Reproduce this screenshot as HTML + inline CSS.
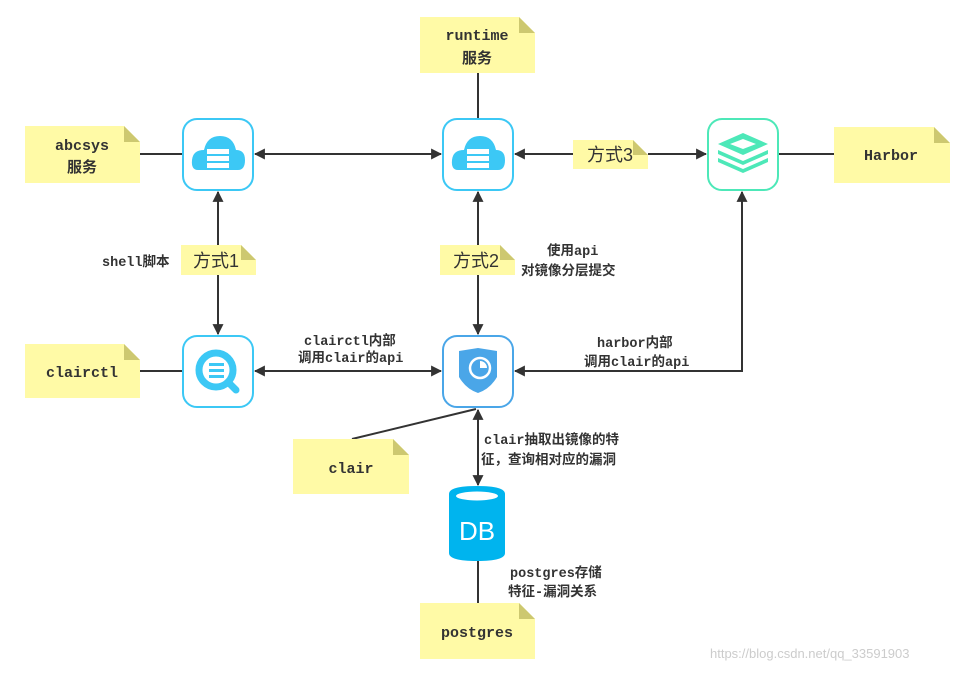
<!DOCTYPE html>
<html><head><meta charset="utf-8"><style>
html,body{margin:0;padding:0;background:#fff}
svg text{font-family:"Liberation Mono","Noto Sans CJK SC",monospace;font-weight:bold;fill:#333}
</style></head><body>
<svg width="962" height="671" viewBox="0 0 962 671" xmlns="http://www.w3.org/2000/svg">
<defs>
<marker id="a" viewBox="0 0 10 10" refX="9" refY="5" markerWidth="11" markerHeight="11" markerUnits="userSpaceOnUse" orient="auto-start-reverse"><path d="M0,0 L10,5 L0,10 z" fill="#333"/></marker>
</defs>
<g stroke="#333" stroke-width="2" fill="none">
<line x1="140" y1="154" x2="183" y2="154"/>
<line x1="255" y1="154" x2="441" y2="154" marker-start="url(#a)" marker-end="url(#a)"/>
<line x1="515" y1="154" x2="573" y2="154" marker-start="url(#a)"/>
<line x1="648" y1="154" x2="706" y2="154" marker-end="url(#a)"/>
<line x1="778" y1="154" x2="834" y2="154"/>
<line x1="478" y1="73" x2="478" y2="118"/>
<line x1="218" y1="192" x2="218" y2="245" marker-start="url(#a)"/>
<line x1="218" y1="275" x2="218" y2="334" marker-end="url(#a)"/>
<line x1="478" y1="192" x2="478" y2="245" marker-start="url(#a)"/>
<line x1="478" y1="275" x2="478" y2="334" marker-end="url(#a)"/>
<line x1="140" y1="371" x2="183" y2="371"/>
<line x1="255" y1="371" x2="441" y2="371" marker-start="url(#a)" marker-end="url(#a)"/>
<polyline points="515,371 742,371 742,192" marker-start="url(#a)" marker-end="url(#a)"/>
<line x1="478" y1="410" x2="478" y2="485" marker-start="url(#a)" marker-end="url(#a)"/>
<line x1="352" y1="439" x2="476" y2="409"/>
<line x1="478" y1="560" x2="478" y2="603"/>
</g>
<g>
<path d="M25,126 H124 L140,142 V183 H25 z" fill="#fffaa6"/><path d="M124,126 V142 H140 z" fill="#cdc870"/>
<path d="M420,17 H519 L535,33 V73 H420 z" fill="#fffaa6"/><path d="M519,17 V33 H535 z" fill="#cdc870"/>
<path d="M834,127 H934 L950,143 V183 H834 z" fill="#fffaa6"/><path d="M934,127 V143 H950 z" fill="#cdc870"/>
<path d="M25,344 H124 L140,360 V398 H25 z" fill="#fffaa6"/><path d="M124,344 V360 H140 z" fill="#cdc870"/>
<path d="M293,439 H393 L409,455 V494 H293 z" fill="#fffaa6"/><path d="M393,439 V455 H409 z" fill="#cdc870"/>
<path d="M420,603 H519 L535,619 V659 H420 z" fill="#fffaa6"/><path d="M519,603 V619 H535 z" fill="#cdc870"/>
<path d="M181,245 H241 L256,260 V275 H181 z" fill="#fffaa6"/><path d="M241,245 V260 H256 z" fill="#cdc870"/>
<path d="M440,245 H500 L515,260 V275 H440 z" fill="#fffaa6"/><path d="M500,245 V260 H515 z" fill="#cdc870"/>
<path d="M573,140 H633 L648,155 V169 H573 z" fill="#fffaa6"/><path d="M633,140 V155 H648 z" fill="#cdc870"/>
</g>
<g fill="#fff" stroke-width="2">
<rect x="183" y="119" width="70" height="71" rx="14" stroke="#3cc8f5"/>
<rect x="443" y="119" width="70" height="71" rx="14" stroke="#3cc8f5"/>
<rect x="708" y="119" width="70" height="71" rx="14" stroke="#4de8b8"/>
<rect x="183" y="336" width="70" height="71" rx="14" stroke="#3cc8f5"/>
<rect x="443" y="336" width="70" height="71" rx="14" stroke="#4aa6e8"/>
</g>
<g id="cl">
<path d="M198,170 Q191,170 192,160 Q193,150 204,150 Q207,136 220,136 Q233,136 236,150 Q245,150 245,160 Q245,170 238,170 z" fill="#3cc8f5"/>
<rect x="207" y="149" width="22" height="5" fill="#fff"/><rect x="207" y="156" width="22" height="5" fill="#fff"/><rect x="207" y="163" width="22" height="5" fill="#fff"/>
</g>
<use href="#cl" x="260"/>
<g fill="#4de8b8">
<path d="M743,133 L768,144 L743,155 L718,144 z"/>
<path d="M718,150 L743,161 L768,150 L768,154 L743,165 L718,154 z"/>
<path d="M718,158 L743,169 L768,158 L768,162 L743,173 L718,162 z"/>
</g>
<path d="M743,139 L756,144 L743,149 L730,144 z" fill="#fff"/>
<circle cx="216" cy="370" r="17" fill="none" stroke="#3cc8f5" stroke-width="7"/>
<line x1="228" y1="382" x2="236" y2="390" stroke="#3cc8f5" stroke-width="7" stroke-linecap="round"/>
<g fill="#3cc8f5"><rect x="209" y="363" width="15" height="3"/><rect x="209" y="369" width="15" height="3"/><rect x="209" y="375" width="15" height="3"/></g>
<path d="M459,351 L478,348 L497,351 L497,377 Q490,389 478,393 Q466,389 459,377 z" fill="#4aa6e8"/>
<circle cx="480" cy="368" r="10" fill="none" stroke="#fff" stroke-width="2.5"/>
<path d="M480,368 L480,361 A7,7 0 0,1 487,368 z" fill="#fff"/>
<path d="M449,494 Q449,486 477,486 Q505,486 505,494 V553 Q505,561 477,561 Q449,561 449,553 z" fill="#00b4ee"/>
<ellipse cx="477" cy="496" rx="21" ry="4.5" fill="#fff"/>
<text x="477" y="540" text-anchor="middle" style="font-family:'Liberation Sans',sans-serif;font-weight:normal;fill:#fff;font-size:26px">DB</text>
<g font-size="15" text-anchor="middle">
<text x="82" y="150">abcsys</text><text x="82" y="172">服务</text>
<text x="477" y="40">runtime</text><text x="477" y="63">服务</text>
<text x="891" y="160">Harbor</text>
<text x="82" y="377">clairctl</text>
<text x="351" y="473">clair</text>
<text x="477" y="637">postgres</text>
</g>
<g font-size="18" text-anchor="middle">
<text x="216" y="267" style="font-family:'Liberation Sans','Noto Sans CJK SC',sans-serif;font-weight:normal">方式1</text>
<text x="476" y="267" style="font-family:'Liberation Sans','Noto Sans CJK SC',sans-serif;font-weight:normal">方式2</text>
<text x="610" y="161" style="font-family:'Liberation Sans','Noto Sans CJK SC',sans-serif;font-weight:normal">方式3</text>
</g>
<g font-size="13.5">
<text x="102" y="266">shell脚本</text>
<text x="547" y="255">使用api</text>
<text x="521" y="275">对镜像分层提交</text>
<text x="304" y="345">clairctl内部</text>
<text x="298" y="362">调用clair的api</text>
<text x="597" y="347">harbor内部</text>
<text x="584" y="366">调用clair的api</text>
<text x="484" y="444">clair抽取出镜像的特</text>
<text x="481" y="464">征，查询相对应的漏洞</text>
<text x="510" y="577">postgres存储</text>
<text x="508" y="596">特征-漏洞关系</text>
</g>
<text x="710" y="658" font-size="13" style="font-family:'Liberation Sans',sans-serif;font-weight:normal;fill:#ccc">https://blog.csdn.net/qq_33591903</text>
</svg>
</body></html>
